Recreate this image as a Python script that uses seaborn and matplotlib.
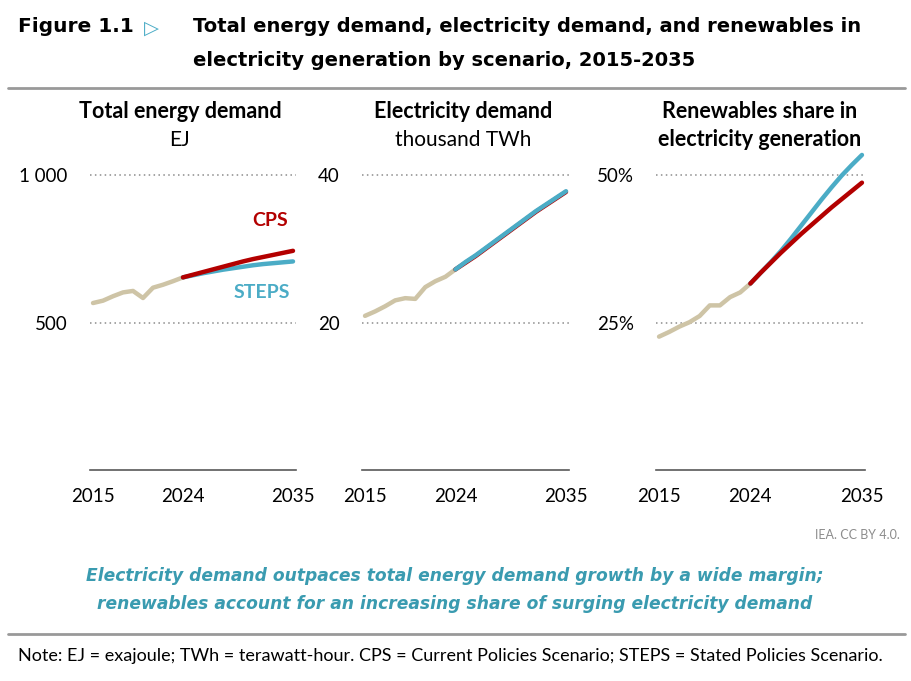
import pandas as pd
import matplotlib.pyplot as plt
import seaborn as sns

# Years
hist_years = list(range(2015, 2025))
proj_years = list(range(2024, 2036))

# Total energy demand (EJ)
ted_hist = [566, 574, 589, 602, 607, 583, 618, 628, 640, 653]
ted_cps = [653, 662, 671, 680, 689, 698, 707, 715, 722, 729, 736, 743]
ted_steps = [653, 660, 667, 673, 679, 684, 689, 694, 698, 701, 704, 707]

# Electricity demand (thousand TWh)
ele_hist = [20.9, 21.5, 22.2, 23.0, 23.3, 23.2, 24.8, 25.6, 26.2, 27.2]
ele_cps = [27.2, 28.1, 29.0, 30.0, 31.0, 32.0, 33.0, 34.0, 35.0, 35.9, 36.8, 37.7]
ele_steps = [27.2, 28.2, 29.1, 30.1, 31.1, 32.1, 33.1, 34.1, 35.1, 36.0, 36.9, 37.8]

# Renewables share in electricity generation (%)
ren_hist = [22.6, 23.4, 24.3, 25.05, 26.1, 27.9, 27.9, 29.3, 30.1, 31.6]
ren_cps = [31.6, 33.4, 35.1, 36.8, 38.4, 40.0, 41.5, 43.0, 44.5, 45.9, 47.3, 48.7]
ren_steps = [31.6, 33.4, 35.2, 37.1, 39.2, 41.4, 43.6, 45.8, 47.9, 49.9, 51.7, 53.4]

x_ticks = [2015, 2024, 2035]

C_HIST = '#CEC4A6'
C_CPS = '#B30000'
C_STEPS = '#4BACC6'
C_TEAL_TEXT = '#3A9BB0'

sns.set_style('white')
plt.rcParams['font.family'] = ['Lato', 'DejaVu Sans']
plt.rcParams['text.color'] = 'black'

fig = plt.figure(figsize=(9.12, 6.81), dpi=100)
W, H = 912, 681


def px_axes(left, right, top, bottom):
    return fig.add_axes([left / W, 1 - bottom / H, (right - left) / W, (bottom - top) / H])


panels = [
    dict(hist=ted_hist, cps=ted_cps, steps=ted_steps, ticks=[500, 1000],
         labels=['500', '1 000'], top=1000, left=90, right=296),
    dict(hist=ele_hist, cps=ele_cps, steps=ele_steps, ticks=[20, 40],
         labels=['20', '40'], top=40, left=362, right=569),
    dict(hist=ren_hist, cps=ren_cps, steps=ren_steps, ticks=[25, 50],
         labels=['25%', '50%'], top=50, left=656, right=865),
]

axes = []
for p in panels:
    ax = px_axes(p['left'], p['right'], 150, 470)
    df = pd.concat([
        pd.DataFrame({'year': hist_years, 'value': p['hist'], 'series': 'hist'}),
        pd.DataFrame({'year': proj_years, 'value': p['steps'], 'series': 'STEPS'}),
        pd.DataFrame({'year': proj_years, 'value': p['cps'], 'series': 'CPS'}),
    ])
    if p is panels[1]:
        order = ['hist', 'CPS', 'STEPS']
    else:
        order = ['hist', 'STEPS', 'CPS']
    for s in order:
        col = {'hist': C_HIST, 'CPS': C_CPS, 'STEPS': C_STEPS}[s]
        sns.lineplot(data=df[df['series'] == s], x='year', y='value', ax=ax,
                     color=col, linewidth=3.2, solid_capstyle='round', clip_on=False)
    ax.set_xlim(2014.7, 2035.3)
    ax.set_ylim(0, p['top'] * 320 / 295)
    ax.set_yticks(p['ticks'])
    ax.set_yticklabels(p['labels'])
    ax.set_xticks(x_ticks)
    ax.set_xlabel('')
    ax.set_ylabel('')
    for t in p['ticks']:
        ax.axhline(t, color='#8C8C8C', linestyle=(0, (1, 2.2)), linewidth=1.1, zorder=0)
    for side in ['top', 'right', 'left']:
        ax.spines[side].set_visible(False)
    ax.spines['bottom'].set_color('#595959')
    ax.spines['bottom'].set_linewidth(1.2)
    ax.tick_params(axis='both', length=0, labelsize=13.5, colors='black')
    ax.tick_params(axis='x', pad=13)
    ax.tick_params(axis='y', pad=16)
    ax.patch.set_alpha(0)
    axes.append(ax)

# Scenario labels
axes[0].text(2032.7, 845, 'CPS', color=C_CPS, fontsize=14, fontweight='bold', ha='center', va='center')
axes[0].text(2031.9, 600, 'STEPS', color=C_STEPS, fontsize=14, fontweight='bold', ha='center', va='center')

# Panel titles
def ftext(x, y, s, **kw):
    fig.text(x / W, 1 - y / H, s, **kw)

ftext(180, 112, 'Total energy demand', fontsize=15.5, fontweight='bold', ha='center', va='center')
ftext(180, 140, 'EJ', fontsize=15, ha='center', va='center')
ftext(463, 112, 'Electricity demand', fontsize=15.5, fontweight='bold', ha='center', va='center')
ftext(463, 140, 'thousand TWh', fontsize=15, ha='center', va='center')
ftext(760, 112, 'Renewables share in', fontsize=15.5, fontweight='bold', ha='center', va='center')
ftext(760, 140, 'electricity generation', fontsize=15.5, fontweight='bold', ha='center', va='center')

# Header
ftext(18, 27, 'Figure 1.1', fontsize=14.5, fontweight='heavy', ha='left', va='center',
      family=['DejaVu Sans'])
ftext(151, 28, '\u25B7', fontsize=14, color=C_STEPS, fontweight='bold', ha='center', va='center',
      family=['DejaVu Sans'])
ftext(193, 27, 'Total energy demand, electricity demand, and renewables in',
      fontsize=14, fontweight='bold', ha='left', va='center', family=['DejaVu Sans'])
ftext(193, 60, 'electricity generation by scenario, 2015-2035',
      fontsize=14, fontweight='bold', ha='left', va='center', family=['DejaVu Sans'])
fig.add_artist(plt.Line2D([8 / W, 905 / W], [1 - 88 / H, 1 - 88 / H], color='#999999', linewidth=2))

# Footer
ftext(900, 535, 'IEA. CC BY 4.0.', fontsize=9, color='#8C8C8C', ha='right', va='center')
ftext(455, 576, 'Electricity demand outpaces total energy demand growth by a wide margin;',
      fontsize=12.3, fontweight='bold', style='italic', color=C_TEAL_TEXT, ha='center', va='center',
      family=['DejaVu Sans'])
ftext(455, 604, 'renewables account for an increasing share of surging electricity demand',
      fontsize=12.3, fontweight='bold', style='italic', color=C_TEAL_TEXT, ha='center', va='center',
      family=['DejaVu Sans'])
fig.add_artist(plt.Line2D([8 / W, 905 / W], [1 - 634 / H, 1 - 634 / H], color='#999999', linewidth=2))
ftext(18, 656, 'Note: EJ = exajoule; TWh = terawatt-hour. CPS = Current Policies Scenario; '
      'STEPS = Stated Policies Scenario.', fontsize=13, ha='left', va='center')

fig.savefig('out.png', dpi=100)
